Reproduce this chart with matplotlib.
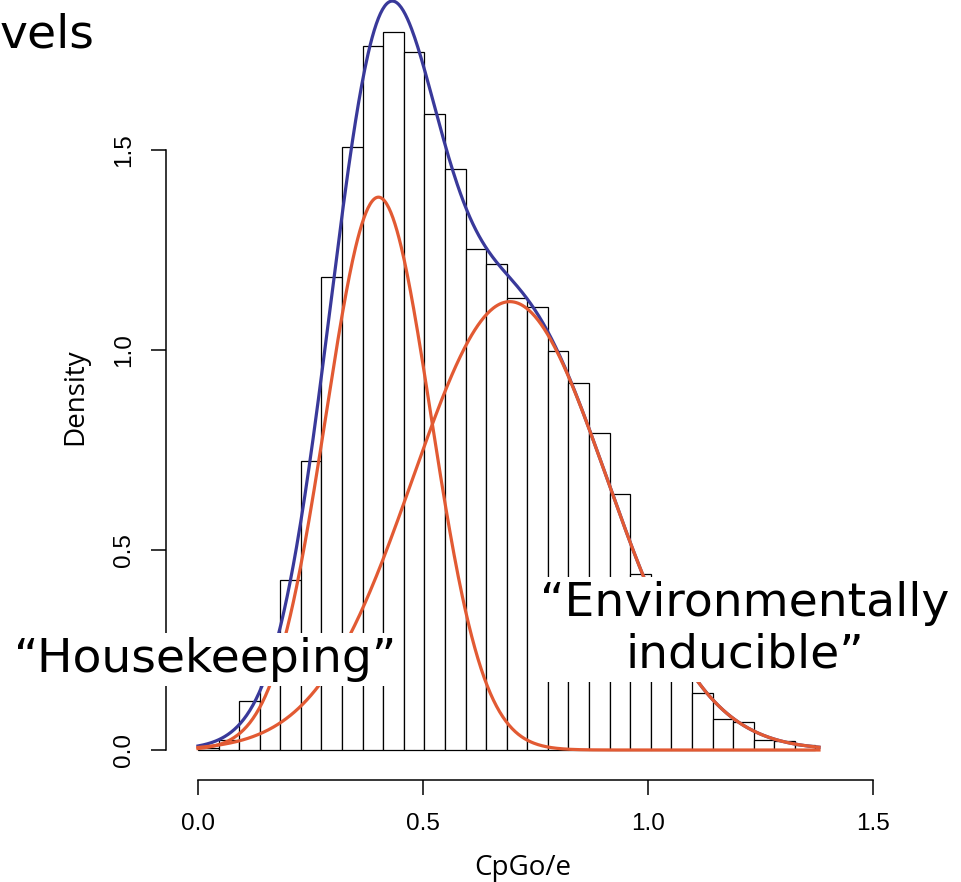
import numpy as np
import matplotlib as mpl
import matplotlib.pyplot as plt

mpl.rcParams['font.family'] = ['Liberation Sans', 'DejaVu Sans']

# histogram of CpG o/e (density scale), 30 equal bins from 0 to ~1.372
bin_lo, bin_hi, n_bins = 0.0, 1.372, 30
density = [0.005, 0.025, 0.1225, 0.25, 0.425, 0.7225, 1.183, 1.508, 1.76, 1.794,
           1.746, 1.591, 1.4525, 1.253, 1.214, 1.129, 1.108, 0.998, 0.917, 0.793,
           0.64, 0.44, 0.34, 0.24, 0.142, 0.0775, 0.069, 0.025, 0.023, 0.0125]

# two-component normal mixture
mix_mean = [0.401, 0.693]
mix_sd = [0.1165, 0.2155]
mix_weight = [0.4036, 0.6055]
curve_range = (0.0, 1.38)

blue = '#39399a'
orange = '#e25a33'

W, H = 961, 882
fig = plt.figure(figsize=(W / 100, H / 100), dpi=100)

def fx(x):
    return x / W

def fy(y):
    return 1 - y / H

# axes placed so that x=0 -> px 198, 450 px per unit; y=0 -> px 750, 400 px per unit
ax_l, ax_r, ax_t, ax_b = 165.7, 900, 0, 780
ax = fig.add_axes([fx(ax_l), fy(ax_b), (ax_r - ax_l) / W, (ax_b - ax_t) / H])
ax.set_xlim((ax_l - 198) / 450, (ax_r - 198) / 450)
ax.set_ylim((750 - ax_b) / 400, (750 - ax_t) / 400)

edges = np.linspace(bin_lo, bin_hi, n_bins + 1)
ax.bar(edges[:-1], density, width=np.diff(edges), align='edge',
       facecolor='white', edgecolor='black', linewidth=0.9, zorder=2)

xs = np.linspace(curve_range[0], curve_range[1], 600)
comps = [w / (s * np.sqrt(2 * np.pi)) * np.exp(-0.5 * ((xs - m) / s) ** 2)
         for m, s, w in zip(mix_mean, mix_sd, mix_weight)]
ax.plot(xs, comps[0] + comps[1], color=blue, lw=2.3, zorder=3, clip_on=False)
for c in comps:
    ax.plot(xs, c, color=orange, lw=2.3, zorder=4, clip_on=False)

for s in ['top', 'right']:
    ax.spines[s].set_visible(False)
ax.spines['left'].set_bounds(0, 1.5)
ax.spines['bottom'].set_bounds(0, 1.5)
for s in ['left', 'bottom']:
    ax.spines[s].set_linewidth(1.1)
ax.set_xticks([0, 0.5, 1.0, 1.5], ['0.0', '0.5', '1.0', '1.5'])
ax.set_yticks([0, 0.5, 1.0, 1.5], ['0.0', '0.5', '1.0', '1.5'])
ax.tick_params(length=11, width=1.1, labelsize=17.5)
ax.tick_params(axis='x', pad=13)
ax.tick_params(axis='y', pad=11, labelrotation=90)
for lab in ax.get_yticklabels():
    lab.set_va('center')
ax.patch.set_alpha(0)

# axis titles
fig.text(fx(523), fy(868), 'CpGo/e', family='Open Sans', fontsize=20,
         ha='center', va='center')
fig.text(fx(75), fy(397), 'Density', family='Open Sans', fontsize=20,
         rotation=90, ha='center', va='center')

# overlaid slide annotations
box = dict(boxstyle='square,pad=0.08', facecolor='white', edgecolor='none')
fig.text(fx(0), fy(47), 'vels', family='DejaVu Sans', fontsize=34,
         ha='left', va='baseline')
fig.text(fx(14), fy(672), '\u201cHousekeeping\u201d', family='DejaVu Sans',
         fontsize=34, ha='left', va='baseline', bbox=box, zorder=10)
fig.text(fx(745), fy(668), '\u201cEnvironmentally\ninducible\u201d',
         family='DejaVu Sans', fontsize=34, ha='center', va='baseline',
         multialignment='center', linespacing=1.2, bbox=box, zorder=10)

fig.savefig('out.png', dpi=100)
